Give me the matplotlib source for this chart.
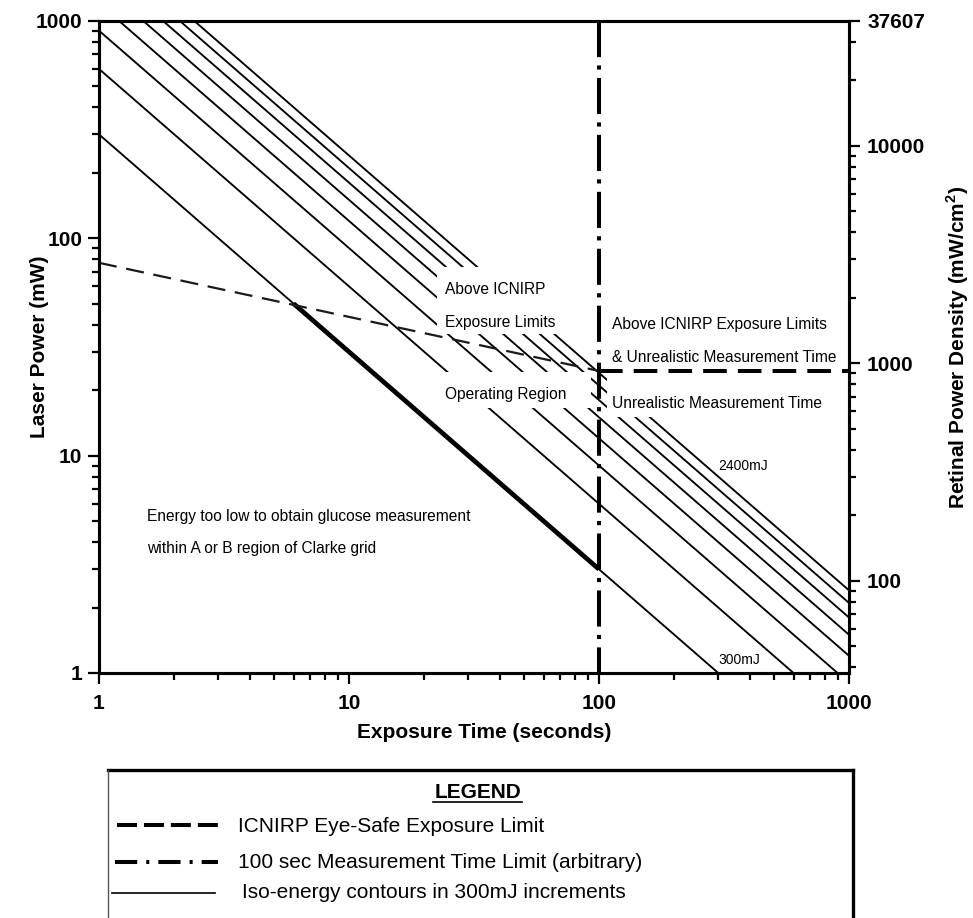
import numpy as np
import matplotlib
matplotlib.use("Agg")
import matplotlib.pyplot as plt
from matplotlib.patches import Rectangle
from matplotlib.lines import Line2D
from matplotlib.ticker import NullFormatter, LogLocator

W, H = 973, 918
plt.rcParams['font.family'] = ['Liberation Sans', 'DejaVu Sans']
plt.rcParams['lines.scale_dashes'] = False
plt.rcParams['mathtext.fontset'] = 'custom'
plt.rcParams['mathtext.rm'] = 'Liberation Sans:bold'

# ---------------- data ----------------
energies_mJ = [300, 600, 900, 1200, 1500, 1800, 2100, 2400]   # iso-energy contours
time_range_s = [1, 1000]
icnirp_t = [1, 100]            # ICNIRP eye-safe limit (sloped part)
icnirp_p = [77, 24.5]
plateau_t = [100, 1000]        # ICNIRP limit, flat part
plateau_p = [24.5, 24.5]
limit_time_s = 100             # measurement time limit
operating_t = [6.0, 100]       # thick part of the 300 mJ contour
retinal_factor = 37.607        # mW -> mW/cm^2
left_ticks = [1, 10, 100, 1000]
left_labels = ['1', '10', '100', '1000']
x_ticks = [1, 10, 100, 1000]
x_labels = ['1', '10', '100', '1000']
right_ticks = [100, 1000, 10000, 37607]
right_labels = ['100', '1000', '10000', '37607']


def fx(x):
    return x / W


def fy(y):
    return 1 - y / H


fig = plt.figure(figsize=(W / 100, H / 100), dpi=100)
ax = fig.add_axes([fx(99), fy(673), (849 - 99) / W, (673 - 20.7) / H])
ax.set_xscale('log')
ax.set_yscale('log')
ax.set_xlim(1, 1000)
ax.set_ylim(1, 1000)

# iso-energy contours
for E in energies_mJ:
    t = np.array(time_range_s, dtype=float)
    ax.plot(t, E / t, color='black', lw=1.35, zorder=2, solid_capstyle='butt')

# thick operating-region boundary
t_op = np.array(operating_t, dtype=float)
ax.plot(t_op, energies_mJ[0] / t_op, color='black', lw=3.4, zorder=2.5,
        solid_capstyle='butt')

# white label boxes (interrupt the contours)
def white_box(x0, y0, x1, y1):
    ax.add_patch(Rectangle((fx(x0), fy(y1)), (x1 - x0) / W, (y1 - y0) / H,
                           transform=fig.transFigure, facecolor='white',
                           edgecolor='none', zorder=3, clip_on=False))

white_box(437, 267, 575, 334)
white_box(430, 372, 591, 408)
white_box(607, 305, 847, 417)

# ICNIRP limit
ax.plot(icnirp_t, icnirp_p, color='#1a1a1a', lw=1.6, dashes=(13, 7), zorder=4)
ax.plot(plateau_t, plateau_p, color='black', lw=2.9, dashes=(17, 8), zorder=4)
# measurement time limit
ax.plot([limit_time_s, limit_time_s], [1000, 1], color='black', lw=2.9,
        dashes=(26, 6, 3, 6), zorder=4, solid_capstyle='butt')

# axes styling
for s in ax.spines.values():
    s.set_linewidth(2.2)
ax.set_xticks(x_ticks, labels=x_labels, fontweight='bold', fontsize=15)
ax.set_yticks(left_ticks, labels=left_labels, fontweight='bold', fontsize=15)
ax.xaxis.set_minor_formatter(NullFormatter())
ax.yaxis.set_minor_formatter(NullFormatter())
ax.tick_params(which='major', length=8, width=1.6, direction='out')
ax.tick_params(which='minor', length=5, width=1.6, direction='out')
ax.tick_params(axis='x', which='major', pad=7)
ax.tick_params(axis='y', which='major', pad=4)

ax2 = ax.twinx()
ax2.set_yscale('log')
ax2.set_ylim(1 * retinal_factor, 1000 * retinal_factor)
ax2.set_yticks(right_ticks, labels=right_labels, fontweight='bold', fontsize=15)
ax2.yaxis.set_minor_locator(LogLocator(subs=np.arange(2, 10)))
ax2.yaxis.set_minor_formatter(NullFormatter())
ax2.tick_params(which='major', length=8, width=1.6, direction='out', pad=5)
ax2.tick_params(which='minor', length=5, width=1.6, direction='out')
for s in ax2.spines.values():
    s.set_linewidth(2.2)

# axis labels
fig.text(fx(484), fy(732), 'Exposure Time (seconds)', ha='center', va='center',
         fontsize=15, fontweight='bold')
fig.text(fx(40), fy(347), 'Laser Power (mW)', ha='center', va='center',
         rotation=90, fontsize=15, fontweight='bold')
fig.text(fx(958), fy(347), r'Retinal Power Density (mW/cm$^\mathregular{2}$)',
         ha='center', va='center', rotation=90, fontsize=15, fontweight='bold')

# in-plot annotations
def note(x, y, s, size=11.2):
    fig.text(fx(x), fy(y), s, ha='left', va='center', fontsize=size, zorder=5)

note(445, 290, 'Above ICNIRP')
note(445, 322, 'Exposure Limits')
note(445, 394, 'Operating Region')
note(612, 325, 'Above ICNIRP Exposure Limits')
note(612, 357, '& Unrealistic Measurement Time')
note(612, 404, 'Unrealistic Measurement Time')
note(147, 516, 'Energy too low to obtain glucose measurement')
note(147, 548, 'within A or B region of Clarke grid')
note(718, 466, '2400mJ', size=10)
note(718, 660, '300mJ', size=10)

# legend box
fig.add_artist(Line2D([fx(108), fx(853)], [fy(770), fy(770)], color='black', lw=2.4))
fig.add_artist(Line2D([fx(853), fx(853)], [fy(770), fy(930)], color='black', lw=2.4))
fig.add_artist(Line2D([fx(108), fx(108)], [fy(770), fy(930)], color='#555555', lw=1.0))
fig.text(fx(478), fy(792), 'LEGEND', ha='center', va='center', fontsize=15,
         fontweight='bold')
fig.add_artist(Line2D([fx(433), fx(522)], [fy(802), fy(802)], color='black', lw=1.2))

fig.add_artist(Line2D([fx(117), fx(218)], [fy(825), fy(825)], color='black',
                      lw=2.9, dashes=(14.4, 5)))
fig.add_artist(Line2D([fx(115), fx(218)], [fy(862), fy(862)], color='black',
                      lw=2.9, dashes=(16, 6.5, 2.2, 6.5)))
fig.add_artist(Line2D([fx(112), fx(215)], [fy(893), fy(893)], color='black', lw=1.2))
fig.text(fx(238), fy(826), 'ICNIRP Eye-Safe Exposure Limit', ha='left', va='center',
         fontsize=15)
fig.text(fx(238), fy(862), '100 sec Measurement Time Limit (arbitrary)', ha='left',
         va='center', fontsize=15)
fig.text(fx(242), fy(893), 'Iso-energy contours in 300mJ increments', ha='left',
         va='center', fontsize=15)

fig.savefig('out.png', dpi=100, facecolor='white')
